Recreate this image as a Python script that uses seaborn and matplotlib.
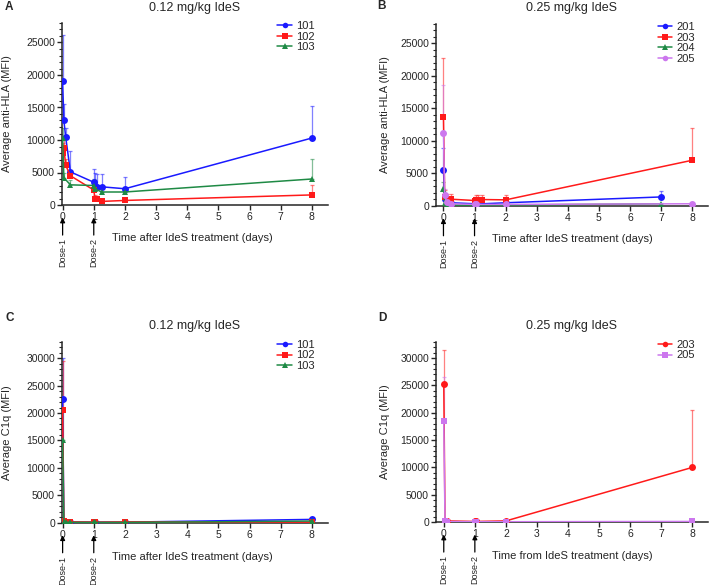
import numpy as np
import pandas as pd
import matplotlib
matplotlib.use("Agg")
import matplotlib.pyplot as plt
import seaborn as sns
from matplotlib.ticker import MultipleLocator

# ---- Panel A: anti-HLA, 0.12 mg/kg ----
a_t_101 = [0, 0.04, 0.1, 0.25, 1.0, 1.04, 1.1, 1.25, 2, 8]
a_v_101 = [19000, 13000, 10400, 5100, 3500, 3000, 2700, 2800, 2500, 10300]
a_e_101 = [7100, 2600, 1500, 3200, 2100, 2000, 2000, 1900, 1800, 5000]
a_t_102 = [0, 0.04, 0.1, 0.25, 1.0, 1.04, 1.1, 1.25, 2, 8]
a_v_102 = [8000, 8700, 6100, 4500, 2300, 950, 900, 550, 700, 1550]
a_e_102 = [1500, 1600, 1000, 800, 500, 600, 500, 300, 400, 1500]
a_t_103 = [0, 0.04, 0.25, 1.0, 1.04, 1.25, 2, 8]
a_v_103 = [10300, 4200, 3100, 3000, 2500, 2000, 2000, 4000]
a_e_103 = [1500, 800, 700, 1000, 800, 600, 600, 3100]

# ---- Panel B: anti-HLA, 0.25 mg/kg ----
b_t_201 = [0, 0.04, 0.1, 0.25, 1.0, 1.04, 2, 7]
b_v_201 = [5500, 1100, 700, 450, 300, 250, 450, 1350]
b_e_201 = [3400, 800, 500, 300, 200, 200, 300, 900]
b_t_203 = [0, 0.04, 0.1, 0.25, 1.0, 1.04, 1.1, 1.25, 2, 8]
b_v_203 = [13600, 1400, 1100, 1000, 800, 900, 950, 950, 900, 7000]
b_e_203 = [9100, 1000, 700, 800, 600, 700, 700, 700, 700, 4900]
b_t_204 = [0, 0.04, 0.1, 0.25, 1.0, 1.04, 2, 7]
b_v_204 = [2500, 350, 150, 100, 80, 80, 100, 300]
b_e_204 = [1200, 300, 100, 80, 60, 60, 80, 150]
b_t_205 = [0, 0.04, 0.1, 0.25, 1.0, 1.04, 2, 8]
b_v_205 = [11200, 1600, 600, 300, 200, 200, 200, 300]
b_e_205 = [7400, 1000, 400, 200, 100, 100, 100, 150]

# ---- Panel C: C1q, 0.12 mg/kg ----
c_t = [0, 0.04, 0.1, 0.25, 1.0, 1.04, 2, 8]
c_v_101 = [22500, 200, 150, 120, 100, 100, 100, 600]
c_e_101 = [7500, 150, 100, 80, 60, 60, 60, 300]
c_v_102 = [20500, 300, 200, 150, 120, 100, 150, 100]
c_e_102 = [9000, 200, 100, 80, 60, 60, 80, 60]
c_v_103 = [15000, 100, 80, 60, 50, 50, 50, 300]
c_e_103 = [6000, 80, 50, 40, 30, 30, 30, 150]

# ---- Panel D: C1q, 0.25 mg/kg ----
d_t = [0, 0.04, 0.1, 1.0, 1.04, 2, 8]
d_v_203 = [25300, 250, 200, 100, 100, 200, 10000]
d_e_203 = [6200, 150, 100, 60, 60, 100, 10500]
d_v_205 = [18500, 100, 80, 50, 50, 50, 100]
d_e_205 = [8000, 80, 50, 30, 30, 30, 60]

BLUE = "#1a1aff"
RED = "#ff1a1a"
GREEN = "#1f8a45"
VIOLET = "#cc77ee"

sns.set_style("ticks")
plt.rcParams["font.family"] = ["Liberation Sans", "DejaVu Sans"]
plt.rcParams["axes.linewidth"] = 1.1


def make_df(series):
    rows = []
    for sid, t, v, e in series:
        for ti, vi, ei in zip(t, v, e):
            rows.append({"id": sid, "t": ti, "v": vi, "e": ei})
    return pd.DataFrame(rows)


def draw_panel(ax, df, colors, markers, xlim, ylim, ymax_tick, ylabel, xlabel, title, leg_x):
    order = list(colors.keys())
    # one-sided error bars (mean + SD)
    for sid in order:
        sub = df[df["id"] == sid]
        ax.errorbar(sub["t"], sub["v"], yerr=[np.zeros(len(sub)), sub["e"]],
                    fmt="none", ecolor=colors[sid], alpha=0.55, elinewidth=0.9,
                    capsize=1.5, capthick=0.9, zorder=1)
    sns.lineplot(data=df, x="t", y="v", hue="id", style="id", hue_order=order,
                 style_order=order, palette=colors, markers=markers, dashes=False,
                 estimator=None, sort=True, linewidth=1.1, markersize=5,
                 markeredgewidth=0, ax=ax, zorder=3)
    h, l = ax.get_legend_handles_labels()
    ax.legend(h, l, loc="upper left", bbox_to_anchor=(leg_x, 1.01), frameon=False,
              fontsize=8, handlelength=1.3, handletextpad=0.4, labelspacing=0.05,
              borderaxespad=0, borderpad=0, markerscale=0.8)
    ax.set_xlim(*xlim)
    ax.set_ylim(*ylim)
    ax.set_xticks(range(0, 9))
    ax.set_yticks(range(0, ymax_tick + 1, 5000))
    ax.yaxis.set_minor_locator(MultipleLocator(1000))
    ax.tick_params(axis="both", which="major", length=3.5, width=1, labelsize=7.5, pad=1.5)
    ax.tick_params(axis="y", which="minor", length=2, width=0.8)
    sns.despine(ax=ax)
    ax.set_xlabel(xlabel, fontsize=8)
    ax.set_ylabel(ylabel, fontsize=8)
    ax.set_title(title, fontsize=9, pad=9)
    # dose arrows
    for d, lab in [(0, "Dose-1"), (1, "Dose-2")]:
        ax.annotate(lab, xy=(d, 0), xycoords=("data", "axes fraction"),
                    xytext=(0, -24), textcoords="offset points", rotation=90,
                    ha="center", va="top", fontsize=6.5, annotation_clip=False,
                    arrowprops=dict(arrowstyle="-|>", color="black", lw=0.9,
                                    shrinkA=0, shrinkB=9, mutation_scale=7))


fig = plt.figure(figsize=(7.09, 5.85), dpi=100)
W, H = 709, 585


def add_ax(l, r, t, b):
    return fig.add_axes([l / W, 1 - b / H, (r - l) / W, (b - t) / H])


axA = add_ax(62, 328, 23, 205)
axB = add_ax(436, 708, 24, 205.7)
axC = add_ax(62, 328, 341.7, 522.7)
axD = add_ax(436, 708, 341.7, 522)

dfA = make_df([("101", a_t_101, a_v_101, a_e_101),
               ("102", a_t_102, a_v_102, a_e_102),
               ("103", a_t_103, a_v_103, a_e_103)])
draw_panel(axA, dfA, {"101": BLUE, "102": RED, "103": GREEN},
           {"101": "o", "102": "s", "103": "^"}, (-0.02, 8.52), (0, 28000), 25000,
           "Average anti-HLA (MFI)", "Time after IdeS treatment (days)",
           "0.12 mg/kg IdeS", 0.81)

dfB = make_df([("201", b_t_201, b_v_201, b_e_201),
               ("203", b_t_203, b_v_203, b_e_203),
               ("204", b_t_204, b_v_204, b_e_204),
               ("205", b_t_205, b_v_205, b_e_205)])
draw_panel(axB, dfB, {"201": BLUE, "203": RED, "204": GREEN, "205": VIOLET},
           {"201": "o", "203": "s", "204": "^", "205": "o"}, (-0.24, 8.51), (0, 28000), 25000,
           "Average anti-HLA (MFI)", "Time after IdeS treatment (days)",
           "0.25 mg/kg IdeS", 0.815)

dfC = make_df([("101", c_t, c_v_101, c_e_101),
               ("102", c_t, c_v_102, c_e_102),
               ("103", c_t, c_v_103, c_e_103)])
draw_panel(axC, dfC, {"101": BLUE, "102": RED, "103": GREEN},
           {"101": "o", "102": "s", "103": "^"}, (-0.02, 8.52), (0, 33000), 30000,
           "Average C1q (MFI)", "Time after IdeS treatment (days)",
           "0.12 mg/kg IdeS", 0.81)

dfD = make_df([("203", d_t, d_v_203, d_e_203),
               ("205", d_t, d_v_205, d_e_205)])
draw_panel(axD, dfD, {"203": RED, "205": VIOLET},
           {"203": "o", "205": "s"}, (-0.25, 8.5), (0, 33000), 30000,
           "Average C1q (MFI)", "Time from IdeS treatment (days)",
           "0.25 mg/kg IdeS", 0.815)

# label positions
for ax, xoff, w in [(axA, -50, 266), (axB, -46, 272), (axC, -50, 266), (axD, -46, 272)]:
    ax.yaxis.set_label_coords(xoff / w, 0.5)
axA.xaxis.set_label_coords(0.49, -28 / 182)
axB.xaxis.set_label_coords(0.50, -28 / 182)
axC.xaxis.set_label_coords(0.49, -29 / 181)
axD.xaxis.set_label_coords(0.50, -29 / 180)

for txt, x, y in [("A", 5, 7), ("B", 377, 6), ("C", 5, 318), ("D", 378, 318)]:
    fig.text(x / W, 1 - y / H, txt, fontsize=8.5, fontweight="bold", va="center", ha="left")

fig.savefig("out.png", dpi=100)
